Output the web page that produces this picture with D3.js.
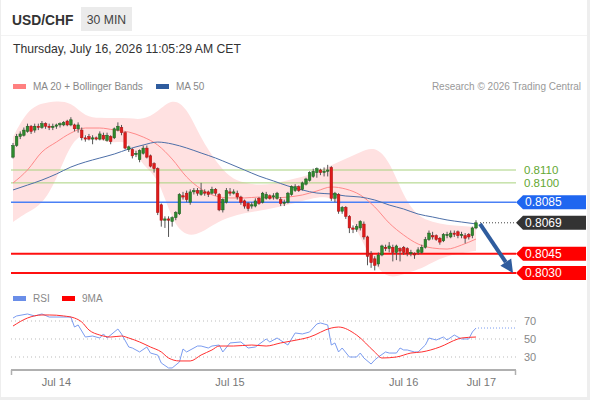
<!DOCTYPE html>
<html><head><meta charset="utf-8">
<script src="https://cdn.jsdelivr.net/npm/d3@7"></script>
<style>
body{margin:0;background:#eeeeee;}
svg{display:block;font-family:"Liberation Sans",Arial,sans-serif;}
</style></head><body>
<svg id="c" width="590" height="400"></svg>
<script>
// ---- candle data (30 min) ----
const openP  = [0.8120,0.8129,0.8136,0.8137,0.8140,0.8144,0.8141,0.8144,0.8143,0.8146,0.8144,0.8143,0.8144,0.8145,0.8145,0.8148,0.8145,0.8145,0.8142,0.8141,0.8135,0.8136,0.8134,0.8135,0.8134,0.8137,0.8133,0.8136,0.8135,0.8141,0.8143,0.8139,0.8126,0.8126,0.8122,0.8118,0.8123,0.8127,0.8121,0.8115,0.8111,0.8083,0.8071,0.8072,0.8070,0.8073,0.8076,0.8090,0.8092,0.8085,0.8093,0.8094,0.8091,0.8093,0.8093,0.8092,0.8095,0.8091,0.8079,0.8085,0.8093,0.8092,0.8092,0.8089,0.8086,0.8084,0.8082,0.8082,0.8088,0.8085,0.8088,0.8090,0.8089,0.8088,0.8087,0.8084,0.8085,0.8091,0.8094,0.8097,0.8095,0.8099,0.8102,0.8105,0.8108,0.8110,0.8108,0.8109,0.8112,0.8088,0.8091,0.8078,0.8081,0.8074,0.8065,0.8064,0.8065,0.8068,0.8058,0.8045,0.8041,0.8037,0.8044,0.8050,0.8049,0.8050,0.8046,0.8049,0.8050,0.8049,0.8045,0.8045,0.8046,0.8046,0.8050,0.8056,0.8059,0.8059,0.8057,0.8055,0.8059,0.8058,0.8061,0.8062,0.8059,0.8059,0.8060,0.8059,0.8065];
const highP  = [0.8131,0.8138,0.8140,0.8143,0.8146,0.8145,0.8146,0.8146,0.8148,0.8147,0.8146,0.8146,0.8146,0.8147,0.8148,0.8149,0.8151,0.8146,0.8147,0.8143,0.8137,0.8138,0.8137,0.8136,0.8140,0.8139,0.8139,0.8137,0.8143,0.8147,0.8145,0.8140,0.8129,0.8127,0.8125,0.8126,0.8129,0.8129,0.8122,0.8116,0.8112,0.8084,0.8074,0.8074,0.8074,0.8078,0.8092,0.8093,0.8094,0.8095,0.8096,0.8096,0.8100,0.8095,0.8094,0.8097,0.8096,0.8092,0.8088,0.8096,0.8096,0.8095,0.8094,0.8090,0.8087,0.8085,0.8085,0.8088,0.8089,0.8093,0.8093,0.8091,0.8092,0.8093,0.8089,0.8087,0.8093,0.8098,0.8099,0.8098,0.8101,0.8104,0.8109,0.8111,0.8112,0.8111,0.8112,0.8114,0.8113,0.8093,0.8092,0.8082,0.8082,0.8075,0.8067,0.8068,0.8071,0.8070,0.8059,0.8047,0.8043,0.8046,0.8052,0.8052,0.8054,0.8052,0.8052,0.8050,0.8051,0.8050,0.8048,0.8046,0.8050,0.8052,0.8058,0.8063,0.8062,0.8060,0.8058,0.8061,0.8062,0.8063,0.8063,0.8063,0.8062,0.8061,0.8061,0.8066,0.8071];
const lowP   = [0.8119,0.8128,0.8134,0.8136,0.8139,0.8138,0.8139,0.8141,0.8142,0.8142,0.8141,0.8141,0.8142,0.8143,0.8144,0.8144,0.8144,0.8140,0.8139,0.8133,0.8132,0.8133,0.8130,0.8133,0.8133,0.8133,0.8132,0.8130,0.8134,0.8140,0.8137,0.8126,0.8124,0.8119,0.8120,0.8116,0.8122,0.8119,0.8112,0.8108,0.8075,0.8066,0.8065,0.8058,0.8066,0.8071,0.8075,0.8087,0.8085,0.8083,0.8091,0.8090,0.8090,0.8090,0.8089,0.8091,0.8090,0.8078,0.8077,0.8084,0.8090,0.8091,0.8087,0.8083,0.8080,0.8078,0.8080,0.8081,0.8083,0.8084,0.8087,0.8087,0.8087,0.8087,0.8082,0.8082,0.8084,0.8090,0.8093,0.8093,0.8094,0.8098,0.8101,0.8104,0.8104,0.8106,0.8105,0.8105,0.8086,0.8085,0.8076,0.8076,0.8072,0.8061,0.8061,0.8062,0.8063,0.8056,0.8036,0.8034,0.8032,0.8035,0.8043,0.8047,0.8046,0.8039,0.8040,0.8039,0.8044,0.8043,0.8043,0.8041,0.8044,0.8045,0.8049,0.8055,0.8056,0.8055,0.8052,0.8054,0.8057,0.8057,0.8058,0.8057,0.8057,0.8053,0.8056,0.8057,0.8064];
const closeP = [0.8129,0.8136,0.8138,0.8141,0.8144,0.8140,0.8144,0.8143,0.8146,0.8144,0.8143,0.8144,0.8145,0.8146,0.8147,0.8145,0.8149,0.8142,0.8145,0.8135,0.8134,0.8134,0.8135,0.8134,0.8138,0.8134,0.8137,0.8132,0.8142,0.8144,0.8139,0.8127,0.8128,0.8121,0.8123,0.8125,0.8127,0.8120,0.8113,0.8111,0.8077,0.8071,0.8072,0.8071,0.8073,0.8077,0.8091,0.8089,0.8087,0.8093,0.8094,0.8092,0.8094,0.8092,0.8091,0.8095,0.8092,0.8079,0.8087,0.8094,0.8092,0.8093,0.8089,0.8085,0.8082,0.8080,0.8083,0.8086,0.8084,0.8092,0.8091,0.8088,0.8090,0.8092,0.8084,0.8085,0.8092,0.8097,0.8097,0.8094,0.8100,0.8103,0.8108,0.8109,0.8111,0.8108,0.8109,0.8110,0.8088,0.8092,0.8078,0.8081,0.8074,0.8065,0.8064,0.8066,0.8070,0.8058,0.8043,0.8038,0.8036,0.8044,0.8051,0.8049,0.8051,0.8046,0.8051,0.8047,0.8046,0.8045,0.8046,0.8044,0.8048,0.8050,0.8056,0.8061,0.8058,0.8056,0.8054,0.8060,0.8060,0.8061,0.8060,0.8059,0.8060,0.8057,0.8058,0.8065,0.8069];

// ---- moving averages & Bollinger bands, sampled every 4 candles ----
const maIdx = [0,4,8,12,16,20,24,28,32,36,40,44,48,52,56,60,64,68,72,76,80,84,88,92,96,100,104,108,112,116,120,124,128];
const ma20 = [0.80999,0.81100,0.81240,0.81317,0.81387,0.81426,0.81426,0.81411,0.81395,0.81356,0.81294,0.81185,0.81046,0.80952,0.80898,0.80883,0.80883,0.80890,0.80883,0.80890,0.80906,0.80937,0.80968,0.80952,0.80906,0.80813,0.80688,0.80595,0.80525,0.80494,0.80486,0.80517,0.80564];
const ma50 = [0.80945,0.80983,0.81022,0.81069,0.81123,0.81162,0.81193,0.81224,0.81263,0.81294,0.81317,0.81302,0.81271,0.81232,0.81193,0.81147,0.81100,0.81053,0.81015,0.80976,0.80945,0.80921,0.80914,0.80898,0.80890,0.80867,0.80828,0.80797,0.80758,0.80735,0.80712,0.80696,0.80681];
const bbUpper = [0.81356,0.81566,0.81620,0.81636,0.81628,0.81512,0.81504,0.81504,0.81504,0.81488,0.81550,0.81659,0.81589,0.81341,0.81170,0.81038,0.80999,0.80983,0.80991,0.81022,0.81046,0.81084,0.81139,0.81185,0.81240,0.81286,0.81178,0.80890,0.80735,0.80696,0.80673,0.80665,0.80657];
const bbLower = [0.80696,0.80774,0.80828,0.81022,0.81317,0.81395,0.81325,0.81310,0.81333,0.81123,0.81060,0.80696,0.80580,0.80611,0.80688,0.80735,0.80766,0.80782,0.80805,0.80828,0.80859,0.80890,0.80890,0.80805,0.80580,0.80354,0.80253,0.80292,0.80323,0.80385,0.80432,0.80455,0.80471];

// ---- RSI ----
const rsiIdx = [0,1,4,6,8,10,13,16,17,18,20,22,24,25,26,29,30,32,33,35,37,38,40,41,43,44,46,47,48,51,52,54,55,57,58,60,63,65,67,70,71,73,76,78,80,82,84,85,86,87,88,89,90,91,93,95,96,97,99,100,101,103,104,106,107,108,109,111,112,114,115,117,119,120,122,124,126,127,128];
const rsiVal = [73.3,75.6,77.8,75.6,77.8,74.4,74.4,74.4,63.3,65.6,52.2,53.3,51.1,55.6,51.1,61.1,55.6,41.1,40.0,35.6,41.1,34.4,32.2,23.3,17.8,17.8,24.4,38.9,35.6,42.2,42.2,40.0,42.2,43.3,35.6,45.6,46.7,40.0,41.1,50.0,46.7,51.1,43.3,56.7,55.6,57.8,66.7,67.8,66.7,65.6,43.3,45.6,35.6,40.0,30.0,30.0,34.4,28.9,22.2,26.7,30.0,35.6,34.4,34.4,40.0,37.8,37.8,35.6,35.6,43.3,51.1,48.9,52.2,48.9,54.4,50.0,50.0,57.8,62.2];
const rsiMaIdx = [0,4,8,10,14,17,19,21,24,27,30,32,35,38,41,43,46,49,52,55,57,61,66,70,74,77,82,88,90,95,100,102,106,110,113,118,123,124,128];
const rsiMaVal = [64.4,73.3,76.7,76.7,75.6,73.3,68.9,60.0,54.4,52.2,53.3,51.1,46.7,41.1,35.6,28.9,25.6,25.6,32.2,37.8,42.2,42.2,43.3,42.2,45.6,47.8,52.2,62.2,63.3,54.4,35.6,28.9,30.0,34.4,35.6,41.1,50.0,51.1,52.2];
const rsiLevels = [70,50,30];

// ---- levels & labels ----
const resistLevels = [0.8110, 0.8100];
const pivotLevel = 0.8085;
const supportLevels = [0.8045, 0.8030];
const lastPrice = 0.8069;
const dateTicks = [12, 60, 108, 129.5];
const dateLabels = ["Jul 14","Jul 15","Jul 16","Jul 17"];
const targetPrice = 0.8030;

const svg = d3.select("#c");
const xL = 11, xR = 516;

svg.append("rect").attr("x",1).attr("y",0).attr("width",586).attr("height",397).attr("fill","#fff");
svg.append("line").attr("x1",1).attr("x2",587).attr("y1",35.5).attr("y2",35.5).attr("stroke","#f3f3f3");

// header
svg.append("text").attr("x",12).attr("y",25).attr("font-size",13.8).attr("font-weight","bold").attr("fill","#333").text("USD/CHF");
svg.append("rect").attr("x",81).attr("y",7).attr("width",51).attr("height",24).attr("fill","#ebebeb");
svg.append("text").attr("x",106.5).attr("y",24).attr("text-anchor","middle").attr("font-size",12.2).attr("fill","#444").text("30 MIN");
svg.append("text").attr("x",13).attr("y",53).attr("font-size",12.2).attr("fill","#333").text("Thursday, July 16, 2026 11:05:29 AM CET");

// legend
svg.append("rect").attr("x",13).attr("y",84).attr("width",13).attr("height",5).attr("fill","#ff8080");
svg.append("text").attr("x",33).attr("y",90).attr("font-size",10).attr("fill","#888").text("MA 20 + Bollinger Bands");
svg.append("rect").attr("x",156).attr("y",84).attr("width",13).attr("height",5).attr("fill","#2f5c9e");
svg.append("text").attr("x",176).attr("y",90).attr("font-size",10).attr("fill","#888").text("MA 50");
svg.append("text").attr("x",581).attr("y",90).attr("text-anchor","end").attr("font-size",10).attr("fill","#999").text("Research © 2026 Trading Central");

const x = d3.scaleLinear().domain([0,128]).range([13,476]);
const y = d3.scaleLinear().domain([0.8030,0.8110]).range([273,170]);
const yR = d3.scaleLinear().domain([30,70]).range([357,321]);

// Bollinger band
const band = d3.area().x(d=>x(d.i)).y0(d=>y(d.lo)).y1(d=>y(d.hi)).curve(d3.curveBasis);
const bandData = maIdx.map((i,k)=>({i, lo:bbLower[k], hi:bbUpper[k]}));
svg.append("path").attr("d",band(bandData)).attr("fill","#ffe1e1");

// level lines
resistLevels.forEach(v=>{
  svg.append("line").attr("x1",xL).attr("x2",xR).attr("y1",y(v)).attr("y2",y(v)).attr("stroke","#a8d27e").attr("stroke-width",1);
  svg.append("text").attr("x",524).attr("y",y(v)+4).attr("font-size",11.5).attr("fill","#64a832").text(v.toFixed(4));
});
svg.append("line").attr("x1",xL).attr("x2",xR).attr("y1",y(pivotLevel)).attr("y2",y(pivotLevel)).attr("stroke","#4a80f5").attr("stroke-width",1.5);
supportLevels.forEach(v=>{
  svg.append("line").attr("x1",xL).attr("x2",xR).attr("y1",y(v)).attr("y2",y(v)).attr("stroke","#ff1010").attr("stroke-width",2);
});

// MAs
const lineFn = d3.line().x(d=>x(d[0])).y(d=>y(d[1])).curve(d3.curveMonotoneX);
svg.append("path").attr("d",lineFn(maIdx.map((i,k)=>[i,ma20[k]]))).attr("fill","none").attr("stroke","#ff8a8a").attr("stroke-width",1);
svg.append("path").attr("d",lineFn(maIdx.map((i,k)=>[i,ma50[k]]))).attr("fill","none").attr("stroke","#4d6fa8").attr("stroke-width",1);

// candles
const bw = 2.6;
const cg = svg.append("g");
openP.forEach((o,i)=>{
  const c = closeP[i], h = highP[i], l = lowP[i];
  const cx = x(i);
  cg.append("line").attr("x1",cx).attr("x2",cx).attr("y1",y(h)).attr("y2",y(l)).attr("stroke","#555").attr("stroke-width",1);
  const top = y(Math.max(o,c)), bot = y(Math.min(o,c));
  const up = c >= o;
  cg.append("rect").attr("x",cx-bw/2).attr("y",top).attr("width",bw).attr("height",Math.max(1,bot-top))
    .attr("fill", up ? "#2d8a2d" : "#e01b1b").attr("stroke", up ? "#1d5a1d" : "#a81010").attr("stroke-width",0.5);
});

// last price dotted
svg.append("line").attr("x1",x(128)+4).attr("x2",xR).attr("y1",y(lastPrice)).attr("y2",y(lastPrice))
  .attr("stroke","#444").attr("stroke-dasharray","1,2");

// tags
function tag(v, fill){
  const yy = y(v);
  svg.append("path").attr("d",`M${xR},${yy} L${xR+7},${yy-7} L586,${yy-7} L586,${yy+7} L${xR+7},${yy+7} Z`).attr("fill",fill);
  svg.append("text").attr("x",525).attr("y",yy+4.3).attr("font-size",12).attr("fill","#fff").text(v.toFixed(4));
}
tag(pivotLevel,"#1f66f0");
tag(lastPrice,"#333333");
supportLevels.forEach(v=>tag(v,"#ff0000"));

// projection arrow
const ax1 = x(128)+4, ay1 = y(lastPrice)+1, ax2 = 513, ay2 = y(targetPrice);
const ang = Math.atan2(ay2-ay1, ax2-ax1);
const hl = 13, hw = 6.5;
const bx = ax2 - hl*Math.cos(ang), by = ay2 - hl*Math.sin(ang);
svg.append("line").attr("x1",ax1).attr("y1",ay1).attr("x2",bx).attr("y2",by).attr("stroke","#2f5c9e").attr("stroke-width",4);
svg.append("path").attr("d",`M${ax2},${ay2} L${bx+hw*Math.sin(ang)},${by-hw*Math.cos(ang)} L${bx-hw*Math.sin(ang)},${by+hw*Math.cos(ang)} Z`).attr("fill","#2f5c9e");

// RSI legend
svg.append("rect").attr("x",13).attr("y",296).attr("width",13).attr("height",5).attr("fill","#6a8ee8");
svg.append("text").attr("x",33).attr("y",302).attr("font-size",10).attr("fill","#888").text("RSI");
svg.append("rect").attr("x",62).attr("y",296).attr("width",13).attr("height",5).attr("fill","#ff0000");
svg.append("text").attr("x",82).attr("y",302).attr("font-size",10).attr("fill","#888").text("9MA");

// RSI grid
rsiLevels.forEach(v=>{
  svg.append("line").attr("x1",xL).attr("x2",xR).attr("y1",yR(v)).attr("y2",yR(v)).attr("stroke","#bbb").attr("stroke-dasharray","1,3");
  svg.append("text").attr("x",524).attr("y",yR(v)+4).attr("font-size",11).attr("fill","#888").text(v);
});
const rLine = d3.line().x(d=>x(d[0])).y(d=>yR(d[1]));
svg.append("path").attr("d",rLine(rsiIdx.map((i,k)=>[i,rsiVal[k]]))).attr("fill","none").attr("stroke","#7b9cf0").attr("stroke-width",1);
svg.append("path").attr("d",rLine.curve(d3.curveMonotoneX)(rsiMaIdx.map((i,k)=>[i,rsiMaVal[k]]))).attr("fill","none").attr("stroke","#ff3030").attr("stroke-width",1);
svg.append("line").attr("x1",x(128)+2).attr("x2",xR).attr("y1",yR(rsiVal[rsiVal.length-1])).attr("y2",yR(rsiVal[rsiVal.length-1]))
  .attr("stroke","#7b9cf0").attr("stroke-dasharray","1,2");

// x axis
svg.append("line").attr("x1",xL).attr("x2",xR).attr("y1",370).attr("y2",370).attr("stroke","#b0b0b0").attr("stroke-width",2);
[xL+0.5, xR-0.5].forEach(px=>svg.append("line").attr("x1",px).attr("x2",px).attr("y1",370).attr("y2",375).attr("stroke","#b0b0b0").attr("stroke-width",1.5));
dateTicks.forEach((t,k)=>{
  svg.append("text").attr("x",x(t)).attr("y",386).attr("text-anchor","middle").attr("font-size",11).attr("fill","#777").text(dateLabels[k]);
});
</script>
</body></html>
